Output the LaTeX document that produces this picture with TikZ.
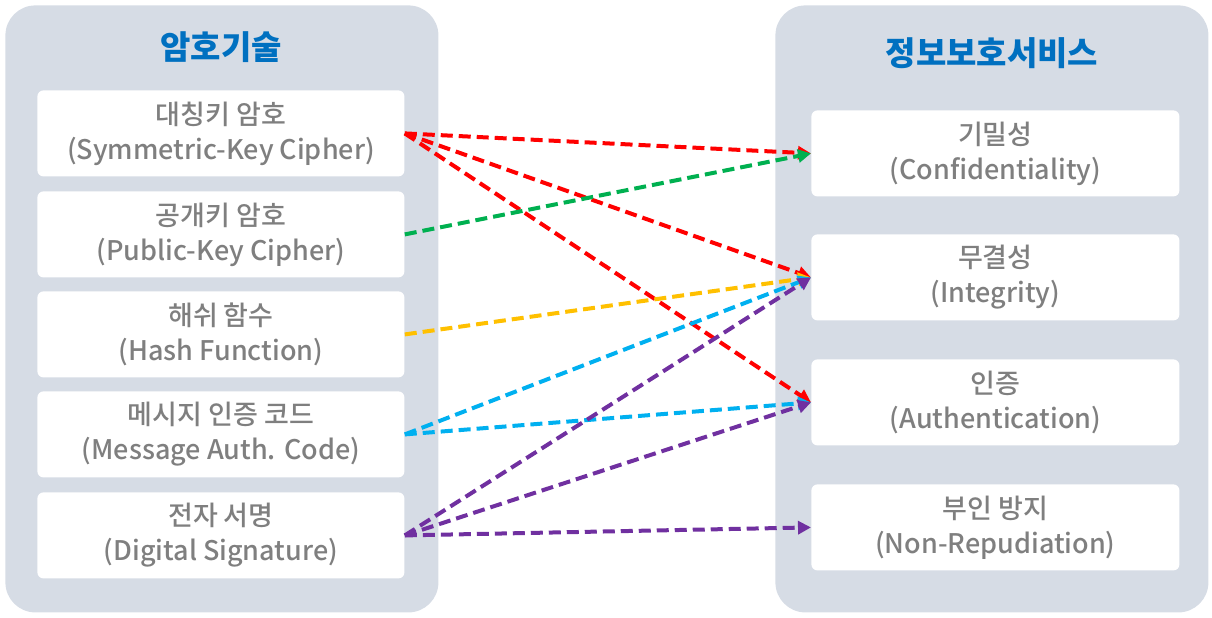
\documentclass[tikz,border=0pt]{standalone}
\usepackage{fontspec}
\setmainfont{Noto Sans CJK KR}
\newfontfamily\medfont{Noto Sans CJK KR Medium}
\usepackage{xcolor}
\usetikzlibrary{arrows.meta,positioning}
\definecolor{ckPanel}{RGB}{214,220,229}
\definecolor{ckBlue} {RGB}{  0,112,192}
\definecolor{ckText} {RGB}{127,127,127}
\definecolor{ckRed}  {RGB}{255,  0,  0}
\definecolor{ckGreen}{RGB}{  0,176, 80}
\definecolor{ckGold} {RGB}{255,192,  0}
\definecolor{ckCyan} {RGB}{  0,176,240}
\definecolor{ckPurp} {RGB}{112, 48,160}

\begin{document}
\begin{tikzpicture}[
  x=0.5pt,y=-0.5pt,
  panel/.style={rectangle,rounded corners=15pt,fill=ckPanel,
                minimum width=216.5pt,minimum height=303.5pt,
                anchor=north west,inner sep=0pt},
  head/.style={font=\fontsize{16.5}{20}\selectfont\bfseries,text=ckBlue,
               anchor=center},
  tech/.style={rectangle,rounded corners=3pt,fill=white,
               minimum width=183.5pt,minimum height=43pt,
               anchor=north west,align=center,inner sep=0pt,
               font=\medfont\fontsize{13.5}{17.5}\selectfont,text=ckText},
  svc/.style={tech,minimum width=184pt},
  link/.style={line width=2pt,dash pattern=on 6pt off 3pt,
               -{Triangle[length=6.5pt,width=6.5pt]}}
]
\useasboundingbox (0,0) rectangle (1212,617);

% --- left panel: techniques
\node[panel] (pL) at (5,5) {};
\node[head] (hL) at (221,47) {암호기술};
\node[tech] (tA1) at (37,90)  {대칭키 암호\\(Symmetric-Key Cipher)};
\node[tech] (tA2) at (37,191) {공개키 암호\\(Public-Key Cipher)};
\node[tech] (tA3) at (37,291) {해쉬 함수\\(Hash Function)};
\node[tech] (tA4) at (37,391) {메시지 인증 코드\\(Message Auth. Code)};
\node[tech] (tA5) at (37,492) {전자 서명\\(Digital Signature)};

% --- right panel: services
\node[panel] (pR) at (775,5) {};
\node[head] (hR) at (992,53) {정보보호서비스};
\node[svc] (sB1) at (811,110) {기밀성\\(Confidentiality)};
\node[svc] (sB2) at (811,234) {무결성\\(Integrity)};
\node[svc] (sB3) at (811,359) {인증\\(Authentication)};
\node[svc] (sB4) at (811,484) {부인 방지\\(Non-Repudiation)};

% --- links
\draw[link,ckRed]   (tA1.east) -- (sB1.west);
\draw[link,ckRed]   (tA1.east) -- (sB2.west);
\draw[link,ckRed]   (tA1.east) -- (sB3.west);
\draw[link,ckGreen] (tA2.east) -- (sB1.west);
\draw[link,ckGold]  (tA3.east) -- (sB2.west);
\draw[link,ckCyan]  (tA4.east) -- (sB2.west);
\draw[link,ckCyan]  (tA4.east) -- (sB3.west);
\draw[link,ckPurp]  (tA5.east) -- (sB2.west);
\draw[link,ckPurp]  (tA5.east) -- (sB3.west);
\draw[link,ckPurp]  (tA5.east) -- (sB4.west);
\end{tikzpicture}
\end{document}
